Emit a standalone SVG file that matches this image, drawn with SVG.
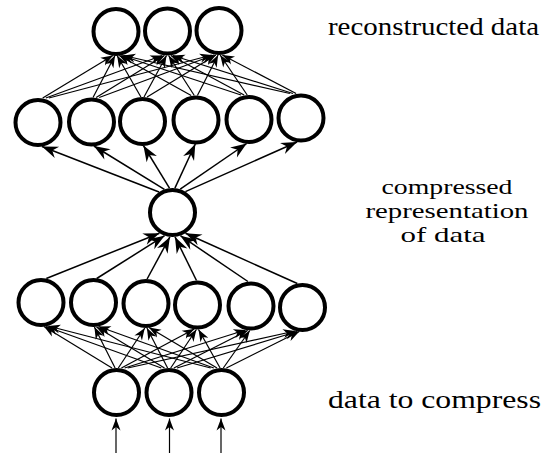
<svg xmlns="http://www.w3.org/2000/svg" width="546" height="453" viewBox="0 0 546 453">
<style>
.n{fill:#fff;stroke:#000;stroke-width:4}
.e{stroke:#000;stroke-width:1.2;fill:none;marker-end:url(#s)}
.m{stroke:#000;stroke-width:1.5;fill:none;marker-end:url(#b)}
text{font-family:"Liberation Serif","Times New Roman","DejaVu Serif",serif;fill:#000}
</style>
<defs>
<marker id="s" markerUnits="userSpaceOnUse" viewBox="-20 -10 20 20" markerWidth="20" markerHeight="20" refX="0" refY="0" orient="auto" overflow="visible">
<path d="M0,0 L-12,-4.5 L-8.5,0 L-12,4.5 Z" fill="#000"/>
</marker>
<marker id="b" markerUnits="userSpaceOnUse" viewBox="-20 -10 20 20" markerWidth="20" markerHeight="20" refX="0" refY="0" orient="auto" overflow="visible">
<path d="M0,0 L-16,-6 L-11,0 L-16,6 Z" fill="#000"/>
</marker>
</defs>
<rect width="546" height="453" fill="#fff"/>
<g id="connectors">
<line class="e" x1="42.7" y1="98" x2="112.9" y2="55.5"/>
<line class="e" x1="45.8" y1="98" x2="162.3" y2="55.5"/>
<line class="e" x1="48.9" y1="98" x2="211.8" y2="55"/>
<line class="e" x1="93" y1="97.5" x2="115" y2="55.5"/>
<line class="e" x1="96.1" y1="97.5" x2="164.5" y2="55.5"/>
<line class="e" x1="99.2" y1="97.5" x2="213.9" y2="55"/>
<line class="e" x1="140.9" y1="97" x2="117.1" y2="55.5"/>
<line class="e" x1="144" y1="97" x2="166.5" y2="55.5"/>
<line class="e" x1="147.1" y1="97" x2="215.9" y2="55"/>
<line class="e" x1="191.2" y1="95.5" x2="119.2" y2="55.5"/>
<line class="e" x1="194.3" y1="95.5" x2="168.6" y2="55.5"/>
<line class="e" x1="197.4" y1="95.5" x2="218.1" y2="55"/>
<line class="e" x1="241" y1="95" x2="121.3" y2="55.5"/>
<line class="e" x1="244.1" y1="95" x2="170.8" y2="55.5"/>
<line class="e" x1="247.2" y1="95" x2="220.2" y2="55"/>
<line class="e" x1="289.9" y1="93.5" x2="123.4" y2="55.5"/>
<line class="e" x1="293" y1="93.5" x2="172.8" y2="55.5"/>
<line class="e" x1="296.1" y1="93.5" x2="222.3" y2="55"/>
<line class="m" x1="159" y1="192" x2="42" y2="146.5"/>
<line class="m" x1="164.4" y1="189.4" x2="93.9" y2="146"/>
<line class="m" x1="169.5" y1="188.2" x2="143.4" y2="145.5"/>
<line class="m" x1="174.9" y1="188.1" x2="195.3" y2="144"/>
<line class="m" x1="180.2" y1="189.2" x2="246.7" y2="143.5"/>
<line class="m" x1="185.4" y1="191.6" x2="297.1" y2="142"/>
<line class="m" x1="46.3" y1="278.5" x2="159.4" y2="233.2"/>
<line class="m" x1="96.7" y1="278.5" x2="164.6" y2="235.7"/>
<line class="m" x1="147.1" y1="279" x2="169.9" y2="236.9"/>
<line class="m" x1="196.5" y1="280.5" x2="175" y2="236.9"/>
<line class="m" x1="247.9" y1="281.5" x2="180.4" y2="235.7"/>
<line class="m" x1="297.3" y1="283.5" x2="185.5" y2="233.3"/>
<line class="e" x1="112" y1="368" x2="44" y2="326.5"/>
<line class="e" x1="115.1" y1="368" x2="94.4" y2="327"/>
<line class="e" x1="118.3" y1="368" x2="144.8" y2="328"/>
<line class="e" x1="121.4" y1="368" x2="194.3" y2="329"/>
<line class="e" x1="124.6" y1="368" x2="245.6" y2="330"/>
<line class="e" x1="127.7" y1="368" x2="295.1" y2="331"/>
<line class="e" x1="161.3" y1="368" x2="46.1" y2="326.5"/>
<line class="e" x1="164.5" y1="368" x2="96.5" y2="327"/>
<line class="e" x1="167.6" y1="368" x2="146.9" y2="328"/>
<line class="e" x1="170.7" y1="368" x2="196.4" y2="329.5"/>
<line class="e" x1="173.9" y1="368" x2="247.7" y2="330.5"/>
<line class="e" x1="177" y1="368" x2="297.2" y2="331.5"/>
<line class="e" x1="210.7" y1="368" x2="48.2" y2="326"/>
<line class="e" x1="213.8" y1="368" x2="98.6" y2="326.5"/>
<line class="e" x1="217" y1="368" x2="149" y2="327.5"/>
<line class="e" x1="220.1" y1="368" x2="198.5" y2="329.5"/>
<line class="e" x1="223.3" y1="368" x2="249.8" y2="330.5"/>
<line class="e" x1="226.4" y1="368" x2="299.3" y2="331.5"/>
<line class="e" x1="116" y1="453" x2="116" y2="418.5"/>
<line class="e" x1="169.5" y1="453" x2="169.5" y2="418.5"/>
<line class="e" x1="221" y1="453" x2="221" y2="418.5"/>
</g>
<g id="top1"><circle class="n" cx="116" cy="31.5" r="22.5"/></g>
<g id="top2"><circle class="n" cx="167.5" cy="31" r="22.5"/></g>
<g id="top3"><circle class="n" cx="219" cy="30.5" r="22.5"/></g>
<g id="dec1"><circle class="n" cx="38" cy="122.5" r="22.5"/></g>
<g id="dec2"><circle class="n" cx="91.5" cy="122" r="22.5"/></g>
<g id="dec3"><circle class="n" cx="142.5" cy="121.5" r="22.5"/></g>
<g id="dec4"><circle class="n" cx="196" cy="120" r="22.5"/></g>
<g id="dec5"><circle class="n" cx="249" cy="119.5" r="22.5"/></g>
<g id="dec6"><circle class="n" cx="301" cy="118" r="22.5"/></g>
<g id="code"><circle class="n" cx="172.5" cy="212.5" r="22.5"/></g>
<g id="enc1"><circle class="n" cx="41" cy="302.5" r="22.5"/></g>
<g id="enc2"><circle class="n" cx="93.5" cy="302.5" r="22.5"/></g>
<g id="enc3"><circle class="n" cx="146" cy="303.5" r="22.5"/></g>
<g id="enc4"><circle class="n" cx="197.5" cy="305" r="22.5"/></g>
<g id="enc5"><circle class="n" cx="251" cy="306" r="22.5"/></g>
<g id="enc6"><circle class="n" cx="302.5" cy="307.5" r="22.5"/></g>
<g id="in1"><circle class="n" cx="116.5" cy="392.5" r="22.5"/></g>
<g id="in2"><circle class="n" cx="169" cy="392.5" r="22.5"/></g>
<g id="in3"><circle class="n" cx="221.5" cy="392.5" r="22.5"/></g>
<g id="labels">
<text font-size="26" x="328" y="35" textLength="211" lengthAdjust="spacingAndGlyphs">reconstructed data</text>
<text font-size="22" x="447" y="194" text-anchor="middle" textLength="131" lengthAdjust="spacingAndGlyphs">compressed</text>
<text font-size="22" x="447" y="218" text-anchor="middle" textLength="163" lengthAdjust="spacingAndGlyphs">representation</text>
<text font-size="22" x="443" y="242" text-anchor="middle" textLength="85" lengthAdjust="spacingAndGlyphs">of data</text>
<text font-size="26" x="328" y="408" textLength="213" lengthAdjust="spacingAndGlyphs">data to compress</text>
</g>
</svg>
